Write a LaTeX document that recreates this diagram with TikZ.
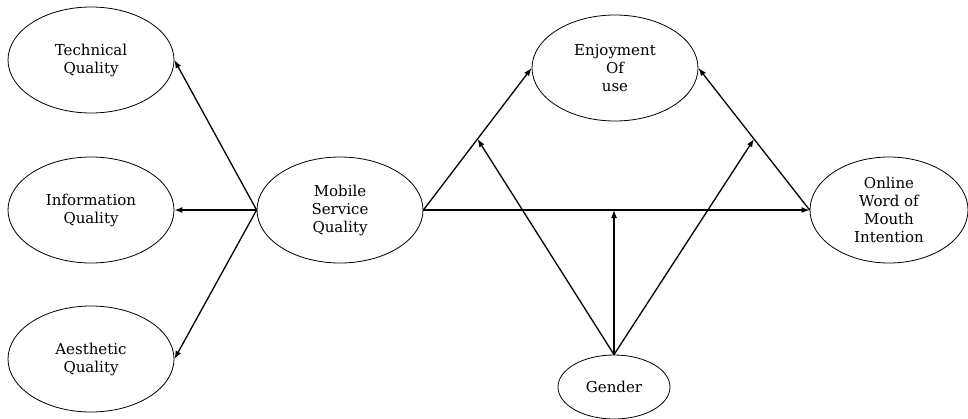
\documentclass[tikz,border=0pt]{standalone}
\usepackage{fontspec}
\setmainfont{DejaVu Serif}
\usetikzlibrary{shapes.geometric,arrows.meta,calc}
\begin{document}
\begin{tikzpicture}[x=1pt,y=-1pt,
  oval/.style={ellipse,draw,line width=0.8pt,inner sep=0pt,minimum width=166pt,minimum height=106pt,
    align=center,font=\fontsize{15}{18}\selectfont},
  arr/.style={line width=1.3pt,-{Latex[length=8pt,width=6pt]}}]
\useasboundingbox (0,0) rectangle (968,418);
\node[oval] (tq) at (91,60) {Technical\\Quality};
\node[oval] (iq) at (91,210) {Information\\Quality};
\node[oval] (aq) at (91,359) {Aesthetic\\Quality};
\node[oval] (msq) at (340,210) {Mobile\\Service\\Quality};
\node[oval] (enj) at (615,68) {Enjoyment\\Of\\use};
\node[oval,minimum width=158pt] (ow) at (889,210) {Online\\Word of\\Mouth\\Intention};
\node[oval,minimum width=112pt,minimum height=64pt] (gen) at (614,387) {Gender};
\draw[arr] (msq.west) -- (tq.east);
\draw[arr] (msq.west) -- (iq.east);
\draw[arr] (msq.west) -- (aq.east);
\draw[arr] (msq.east) -- (enj.west);
\draw[arr] (msq.east) -- (ow.west);
\draw[arr] (ow.west) -- (enj.east);
\coordinate (m1) at ($(msq.east)!0.5!(enj.west)$);
\coordinate (m2) at ($(ow.west)!0.5!(enj.east)$);
\coordinate (m3) at (gen.north |- msq.east);
\draw[arr] (gen.north) -- (m1);
\draw[arr] (gen.north) -- (m2);
\draw[arr] (gen.north) -- (m3);
\end{tikzpicture}
\end{document}
